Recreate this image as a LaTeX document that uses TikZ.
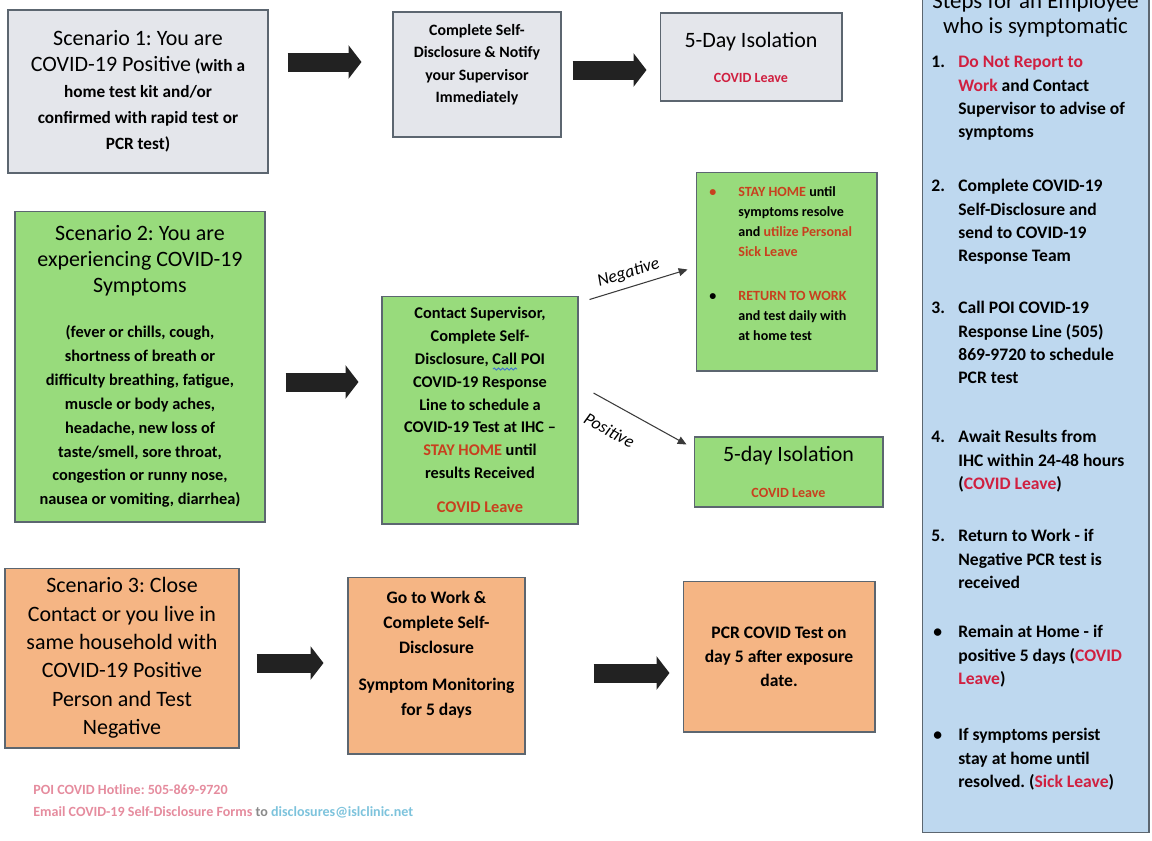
\documentclass[tikz,border=0pt]{standalone}
\usepackage{fontspec}
\setmainfont{Carlito}
\usepackage{tikz}
\usetikzlibrary{arrows.meta}
\usetikzlibrary{calc}
\usetikzlibrary{decorations.pathmorphing}

\definecolor{greyfill}{HTML}{E4E6EB}
\definecolor{greenfill}{HTML}{98DB7C}
\definecolor{orangefill}{HTML}{F5B584}
\definecolor{bluefill}{HTML}{BED8EF}
\definecolor{boxline}{HTML}{5C6670}
\definecolor{arrowdark}{HTML}{222222}
\definecolor{linegrey}{HTML}{3A3A3A}
\definecolor{leavered}{HTML}{D02040}
\definecolor{leavebrick}{HTML}{C8401E}
\definecolor{footpink}{HTML}{E58C9E}
\definecolor{footblue}{HTML}{7DC3DC}
\definecolor{footgrey}{HTML}{8A8A8A}
\definecolor{spellblue}{HTML}{3C6FD8}

\newcommand{\headfont}{\mdseries\fontsize{12.5}{15}\selectfont}
\newcommand{\redtxt}[1]{\textcolor{leavered}{#1}}
\newcommand{\redgrn}[1]{\textcolor{leavebrick}{#1}}

\begin{document}
\frenchspacing
\begin{tikzpicture}[x=0.02cm, y=-0.02cm,
        box_style/.style={draw=boxline, line width=0.6pt, inner sep=0pt, align=center,
            font=\bfseries\fontsize{9.6}{13.4}\selectfont},
        grey_box/.style={box_style, fill=greyfill},
        green_box/.style={box_style, fill=greenfill},
        orange_box/.style={box_style, fill=orangefill},
        side_box/.style={draw=boxline, line width=0.6pt, fill=bluefill, inner sep=0pt},
        side_text/.style={inner sep=0pt, align=left, anchor=north west,
            font=\bfseries\fontsize{10}{13.3}\selectfont},
        note_text/.style={inner sep=0pt, align=left, anchor=north west,
            font=\bfseries\fontsize{8}{11.4}\selectfont},
        foot_text/.style={inner sep=0pt, anchor=base west,
            font=\bfseries\fontsize{8}{10}\selectfont},
        block_arrow/.style={draw=arrowdark, line width=0.38cm,
            -{Triangle[length=0.26cm,width=0.66cm]}},
        thin_arrow/.style={draw=linegrey, line width=0.6pt,
            -{Triangle[length=5pt,width=4.5pt]}},
        branch_label/.style={font=\itshape\fontsize{10}{12}\selectfont, sloped}]

        \useasboundingbox (0,0) rectangle (1152,840);

        \node [grey_box, minimum width=5.2cm, minimum height=3.26cm,
            font=\bfseries\fontsize{9.8}{14.8}\selectfont] (sc1) at (138,91.5)
            {{\headfont Scenario 1: You are}\\{\headfont COVID-19 Positive} (with a\\home test kit and/or\\confirmed with rapid test or\\PCR test)};

        \node [grey_box, minimum width=3.36cm, minimum height=2.5cm,
            font=\bfseries\fontsize{9}{12.8}\selectfont] (sc1_notify) at (477,74.5)
            {Complete Self-\\Disclosure \& Notify\\your Supervisor\\Immediately\\\mbox{}};

        \node [grey_box, minimum width=3.64cm, minimum height=1.76cm] (sc1_iso) at (751,57)
            {\mbox{}\\[-4.4pt]{\headfont 5-Day Isolation}\\[6.5pt]{\fontsize{8}{10}\selectfont\redtxt{COVID Leave}}};

        \node [green_box, minimum width=5cm, minimum height=6.22cm,
            font=\bfseries\fontsize{9.3}{13.6}\selectfont] (sc2) at (140,366.5)
            {{\headfont Scenario 2: You are}\\[1.2pt]{\headfont experiencing COVID-19}\\[1.2pt]{\headfont Symptoms}\\[12pt](fever or chills, cough,\\shortness of breath or\\difficulty breathing, fatigue,\\muscle or body aches,\\headache, new loss of\\taste/smell, sore throat,\\congestion or runny nose,\\nausea or vomiting, diarrhea)};

        \node [green_box, minimum width=3.92cm, minimum height=4.56cm,
            font=\bfseries\fontsize{9.3}{13}\selectfont] (sc2_call) at (480,410)
            {Contact Supervisor,\\Complete Self-\\Disclosure, Call POI\\COVID-19 Response\\Line to schedule a\\COVID-19 Test at IHC –\\\redgrn{STAY HOME} until\\results Received\\[6.3pt]\redgrn{COVID Leave}};

        \draw [spellblue, line width=0.5pt, decorate, decoration={snake, amplitude=0.6pt, segment length=2.4pt}] (493,369) -- (517,369);

        \node [green_box, minimum width=3.62cm, minimum height=3.98cm] (sc2_neg) at (786.5,271.5) {};

        \node [note_text, text=leavebrick] (neg_b1) at (709,182) {\strut\textbullet};

        \node [note_text] (neg_t1) at (738,182)
            {\strut\redgrn{STAY HOME} until\\symptoms resolve\\and \redgrn{utilize Personal}\\\redgrn{Sick Leave}};

        \node [note_text] (neg_b2) at (709,286) {\strut\textbullet};

        \node [note_text] (neg_t2) at (738,286)
            {\strut\redgrn{RETURN TO WORK}\\and test daily with\\at home test};

        \node [green_box, minimum width=3.78cm, minimum height=1.4cm] (sc2_pos) at (788.5,472)
            {{\headfont 5-day Isolation}\\[7pt]{\fontsize{8}{10}\selectfont\redgrn{COVID Leave}}};

        \node [orange_box, minimum width=4.68cm, minimum height=3.6cm,
            font=\fontsize{12.5}{16.2}\selectfont] (sc3) at (122,658)
            {Scenario 3: Close\\Contact or you live in\\same household with\\COVID-19 Positive\\Person and Test\\Negative};

        \node [orange_box, minimum width=3.54cm, minimum height=3.54cm,
            font=\bfseries\fontsize{10}{14.2}\selectfont] (sc3_work) at (436.5,665.5)
            {Go to Work \&\\Complete Self-\\Disclosure\\[6.8pt]Symptom Monitoring\\for 5 days\\\mbox{}};

        \node [orange_box, minimum width=3.84cm, minimum height=3.02cm,
            font=\bfseries\fontsize{10}{13.6}\selectfont] (sc3_pcr) at (779,656.5)
            {PCR COVID Test on\\day 5 after exposure\\date.};

        \node [side_box, minimum width=4.54cm, minimum height=16.86cm] (side) at (1035.5,411.5) {};

        \node [inner sep=0pt, align=center, font=\fontsize{13}{14.2}\selectfont] (side_title) at (1035.5,14.5)
            {Steps for an Employee\\who is symptomatic};

        \node [side_text] (step1_n) at (931,51) {\strut 1.};
        \node [side_text] (step1) at (958,51)
            {\strut\redtxt{Do Not Report to}\\\redtxt{Work} and Contact\\Supervisor to advise of\\symptoms};

        \node [side_text] (step2_n) at (931,175) {\strut 2.};
        \node [side_text] (step2) at (958,175)
            {\strut Complete COVID-19\\Self-Disclosure and\\send to COVID-19\\Response Team};

        \node [side_text] (step3_n) at (931,297) {\strut 3.};
        \node [side_text] (step3) at (958,297)
            {\strut Call POI COVID-19\\Response Line (505)\\869-9720 to schedule\\PCR test};

        \node [side_text] (step4_n) at (931,426) {\strut 4.};
        \node [side_text] (step4) at (958,426)
            {\strut Await Results from\\IHC within 24-48 hours\\(\redtxt{COVID Leave})};

        \node [side_text] (step5_n) at (931,525) {\strut 5.};
        \node [side_text] (step5) at (958,525)
            {\strut Return to Work - if\\Negative PCR test is\\received};

        \node [side_text] (home_b) at (933,621) {\strut\textbullet};
        \node [side_text] (home) at (958,621)
            {\strut Remain at Home - if\\positive 5 days (\redtxt{COVID}\\\redtxt{Leave})};

        \node [side_text] (persist_b) at (933,724) {\strut\textbullet};
        \node [side_text] (persist) at (958,724)
            {\strut If symptoms persist\\stay at home until\\resolved. (\redtxt{Sick Leave})};

        \node [foot_text, text=footpink] (hotline) at (33,794) {POI COVID Hotline: 505-869-9720};
        \node [foot_text, text=footpink] (email) at (33,816)
            {Email COVID-19 Self-Disclosure Forms \textcolor{footgrey}{to} \textcolor{footblue}{disclosures@islclinic.net}};

        \draw [block_arrow, shorten <=0.38cm, shorten >=0.62cm] (sc1.east |- 0,62) -- (sc1_notify.west |- 0,62);

        \draw [block_arrow, shorten <=0.22cm, shorten >=0.26cm] (sc1_notify.east |- 0,70) -- (sc1_iso.west |- 0,70);

        \draw [block_arrow, shorten <=0.4cm, shorten >=0.46cm] (sc2.east |- 0,382) -- (sc2_call.west |- 0,382);

        \draw [block_arrow, shorten <=0.34cm, shorten >=0.48cm] (sc3.east |- 0,663) -- (sc3_work.west |- 0,663);

        \draw [block_arrow, shorten <=1.36cm, shorten >=0.26cm] (sc3_work.east |- 0,673) -- (sc3_pcr.west |- 0,673);

        \draw [thin_arrow] ([shift={(11,4)}]sc2_call.north east) -- node [branch_label, above, pos=0.44] (neg_label) {Negative} ([shift={(-8,-2)}]sc2_neg.west);

        \draw [thin_arrow] ([shift={(15,-17)}]sc2_call.east) -- node [branch_label, below=7pt, pos=0.3] (pos_label) {Positive} ([shift={(-7,8)}]sc2_pos.north west);

\end{tikzpicture}
\end{document}
